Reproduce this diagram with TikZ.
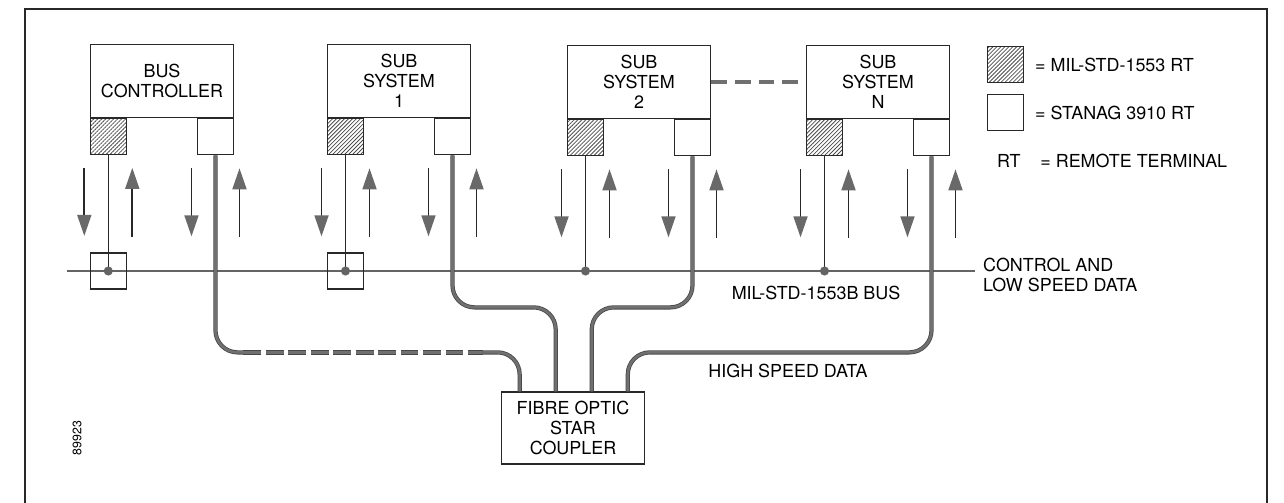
\documentclass[tikz,border=0pt]{standalone}
\usepackage{fontspec}
\setmainfont{TeX Gyre Heros}
\usetikzlibrary{arrows.meta,patterns.meta,calc}

\definecolor{inkdark}{RGB}{40,40,40}
\definecolor{fibregray}{RGB}{112,112,112}
\definecolor{fibreedge}{RGB}{72,72,72}
\definecolor{busgray}{RGB}{100,100,100}
\definecolor{headgray}{RGB}{105,105,105}

\tikzset{
  frame/.style={draw=inkdark, line width=0.9pt},
  sysbox/.style={draw=inkdark, line width=0.7pt, minimum width=2.86cm,
    minimum height=1.46cm, align=center, inner sep=0pt},
  rtbox/.style={draw=inkdark, line width=0.7pt, minimum size=0.72cm, inner sep=0pt},
  milrt/.style={rtbox, pattern={Lines[angle=45,distance=1.6pt,line width=0.45pt]},
    pattern color=black!70},
  fibre/.style={draw=fibreedge, line width=0.45pt, double=fibregray,
    double distance=1.5pt, rounded corners=0.44cm},
  fibredash/.style={fibre, dash pattern=on 10pt off 2.8pt},
  linkdash/.style={draw=fibregray, line width=1.8pt, dash pattern=on 9pt off 4.5pt},
  busline/.style={draw=busgray, line width=1.6pt},
  stub/.style={draw=inkdark, line width=0.9pt},
  flow/.style={draw=inkdark, line width=1pt,
    -{Triangle[width=0.28cm,length=0.42cm,fill=headgray,color=headgray]}},
}

\begin{document}
\begin{tikzpicture}[x=0.02cm, y=-0.02cm, font=\fontsize{10.2pt}{11.4pt}\selectfont]
\useasboundingbox (0,0) rectangle (1284,503);
% frame
\draw[frame] (25,503) -- (25,9) -- (1267,9) -- (1267,503);
% subsystems
\node[sysbox] (bc) at (162,81) {BUS\\CONTROLLER};
\node[sysbox] (s1) at (399,81) {SUB\\SYSTEM\\1};
\node[sysbox] (s2) at (639,82) {SUB\\SYSTEM\\2};
\node[sysbox] (sn) at (878,82) {SUB\\SYSTEM\\N};
\draw[linkdash] (s2.east) -- (sn.west);
% remote terminals under each box
\foreach \u in {bc,s1,s2,sn}{
  \node[milrt, anchor=north west] (\u-m) at (\u.south west) {};
  \node[rtbox, anchor=north east] (\u-s) at (\u.south east) {};
}
% data flow arrows
\foreach \u in {bc,s1,s2,sn}
  \foreach \t in {m,s}{
    \draw[flow] ($(\u-\t.south)+(-24,13)$) -- ++(0,68);
    \draw[flow] ($(\u-\t.south)+(24,82)$) -- ++(0,-69);
  }
% bus
\coordinate (bus-w) at (67,271);
\coordinate (bus-e) at (975,271);
\draw[busline] (bus-w) -- (bus-e);
\foreach \u in {bc,s1,s2,sn}{
  \coordinate (\u-j) at (\u-m.south |- bus-w);
  \draw[stub] (\u-m.south) -- (\u-j);
  \fill[busgray] (\u-j) circle[radius=2.6pt];
}
\node[rtbox] (bc-jb) at (bc-j) {};
\node[rtbox] (s1-jb) at (s1-j) {};
% star coupler
\node[sysbox, minimum height=1.44cm] (cp) at (573,428) {FIBRE OPTIC\\STAR\\COUPLER};
\foreach \i/\f in {1/0.13,2/0.38,3/0.63,4/0.88}
  \coordinate (cp\i) at ($(cp.north west)!\f!(cp.north east)$);
% fibres
\coordinate (dash-e) at ($(cp1)+(-37,-39)$);
\coordinate (dash-w) at ($(bc-s.south |- dash-e)+(28,0)$);
\draw[fibre] (bc-s.south) |- (dash-w);
\draw[fibredash] (dash-w) -- (dash-e);
\draw[fibre] (dash-e) -| (cp1);
\draw[fibre] (s1-s.south) |- ($(cp2)+(0,-84)$) -- (cp2);
\draw[fibre] (s2-s.south) |- ($(cp3)+(0,-84)$) -- (cp3);
\draw[fibre] (sn-s.south) |- ($(cp4)+(0,-39)$) -- (cp4);
% labels
\node[anchor=west, align=left] (ctl-lab) at (977,275) {CONTROL AND\\LOW SPEED DATA};
\node (bus-lab) at (816,293) {MIL-STD-1553B BUS};
\node (hs-lab) at (788,371) {HIGH SPEED DATA};
\node[rotate=90, font=\fontsize{7pt}{8pt}\selectfont] (fig-no) at (77,438) {89923};
% key
\node[milrt] (key-m) at (1005.5,64.5) {};
\node[rtbox] (key-s) at (1005.5,112.5) {};
\node[anchor=west] (key-m-lab) at (1029,65) {= MIL-STD-1553 RT};
\node[anchor=west] (key-s-lab) at (1029,113) {= STANAG 3910 RT};
\node[anchor=west] (key-rt-lab) at (991,161) {RT\hspace{1.1em}= REMOTE TERMINAL};
\end{tikzpicture}
\end{document}
